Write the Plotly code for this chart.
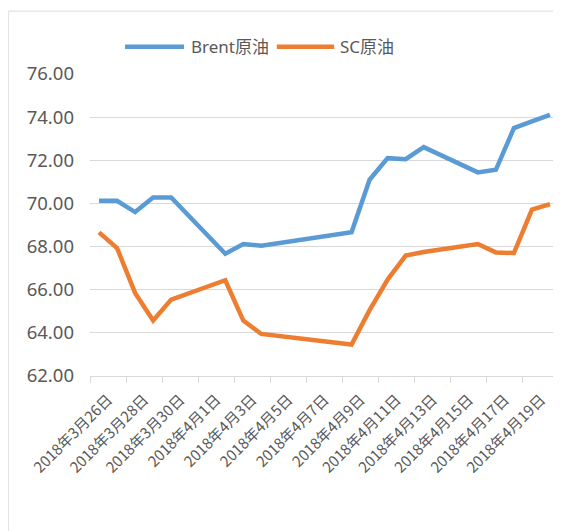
import plotly.graph_objects as go
import pandas as pd

# ---------------- data ----------------
dates = ["2018-03-26", "2018-03-27", "2018-03-28", "2018-03-29", "2018-03-30",
         "2018-04-02", "2018-04-03", "2018-04-04", "2018-04-09", "2018-04-10",
         "2018-04-11", "2018-04-12", "2018-04-13", "2018-04-16", "2018-04-17",
         "2018-04-18", "2018-04-19", "2018-04-20"]
brent = [70.12, 70.12, 69.60, 70.28, 70.28, 67.67, 68.12, 68.04, 68.66, 71.10,
         72.10, 72.05, 72.61, 71.44, 71.56, 73.49, 73.80, 74.11]
sc = [68.66, 67.93, 65.85, 64.57, 65.54, 66.44, 64.57, 63.95, 63.46, 65.05,
      66.47, 67.58, 67.75, 68.12, 67.73, 67.70, 69.71, 69.97]
series_names = ["Brent原油", "SC原油"]
tick_labels = ["2018年3月26日", "2018年3月28日", "2018年3月30日", "2018年4月1日",
               "2018年4月3日", "2018年4月5日", "2018年4月7日", "2018年4月9日",
               "2018年4月11日", "2018年4月13日", "2018年4月15日", "2018年4月17日",
               "2018年4月19日"]
y_ticks = [62, 64, 66, 68, 70, 72, 74, 76]

BLUE = "#5B9BD5"
ORANGE = "#ED7D31"
GRID = "#D9D9D9"
TXT = "#595959"

# page is 561x531; the html body has an 8px margin, so the figure is offset
OFF = 8
W, H = 561 - OFF, 531 - OFF
L, R, T, B = 90 - OFF, 2.3, 74 - OFF, 154.5
pw, ph = W - L - R, H - T - B


def px(x):  # page pixel -> paper
    return (x - OFF - L) / pw


def py(y):
    return (H - B - (y - OFF)) / ph


# axis geometry (Excel date axis: one slot per day, labels every 2 days)
label_pos = pd.date_range("2018-03-26 12:00", periods=len(tick_labels), freq="2D")
boundaries = pd.date_range("2018-03-25 12:00", periods=len(tick_labels) + 1, freq="2D")
x_range = [boundaries[0], pd.Timestamp("2018-04-20 12:00")]

fig = go.Figure()
fig.add_trace(go.Scatter(x=pd.to_datetime(dates), y=brent, mode="lines", name=series_names[0],
                         line=dict(color=BLUE, width=4.5), showlegend=False))
fig.add_trace(go.Scatter(x=pd.to_datetime(dates), y=sc, mode="lines", name=series_names[1],
                         line=dict(color=ORANGE, width=4.5), showlegend=False))

fig.update_layout(
    width=W, height=H,
    margin=dict(l=L, r=R, t=T, b=B, pad=0),
    paper_bgcolor="white", plot_bgcolor="white",
    font=dict(family="Noto Sans, Noto Sans CJK SC", color=TXT),
    xaxis=dict(
        type="date", range=x_range,
        tickmode="array", tickvals=label_pos, ticktext=tick_labels,
        ticks="", tickangle=-45, ticklabelstandoff=8,
        tickfont=dict(family="Noto Sans CJK SC", size=15, color=TXT),
        showgrid=False, showline=True, linecolor=GRID, linewidth=1,
        zeroline=False,
        minor=dict(tickmode="array", tickvals=boundaries, ticks="outside",
                   ticklen=6, tickcolor=GRID, tickwidth=1, showgrid=False),
    ),
    yaxis=dict(
        range=[62, 76], tickmode="array", tickvals=y_ticks, tickformat=".2f",
        showgrid=True, gridcolor=GRID, gridwidth=1, zeroline=False,
        showline=False, ticks="", ticklabelstandoff=15,
        tickfont=dict(family="Noto Sans", size=18.5, color=TXT),
    ),
)

# chart-area border (left and top edges visible)
fig.add_shape(type="rect", xref="paper", yref="paper",
              x0=px(8.3), x1=px(575), y0=py(545), y1=py(11),
              line=dict(color=GRID, width=1), fillcolor="rgba(0,0,0,0)", layer="below")

# legend (drawn manually to match long Excel legend keys)
leg_y = py(46.7)
for (x0, x1, tx), col, name in zip([(125, 184, 189), (276.7, 334, 337.5)],
                                   [BLUE, ORANGE], series_names):
    fig.add_shape(type="line", xref="paper", yref="paper",
                  x0=px(x0), x1=px(x1), y0=leg_y, y1=leg_y,
                  line=dict(color=col, width=4.5))
    fig.add_annotation(xref="paper", yref="paper", x=px(tx), y=leg_y,
                       text=name, showarrow=False, xanchor="left", yanchor="middle",
                       font=dict(family="Noto Sans, Noto Sans CJK SC", size=17, color=TXT))

fig.write_html("out.html")
